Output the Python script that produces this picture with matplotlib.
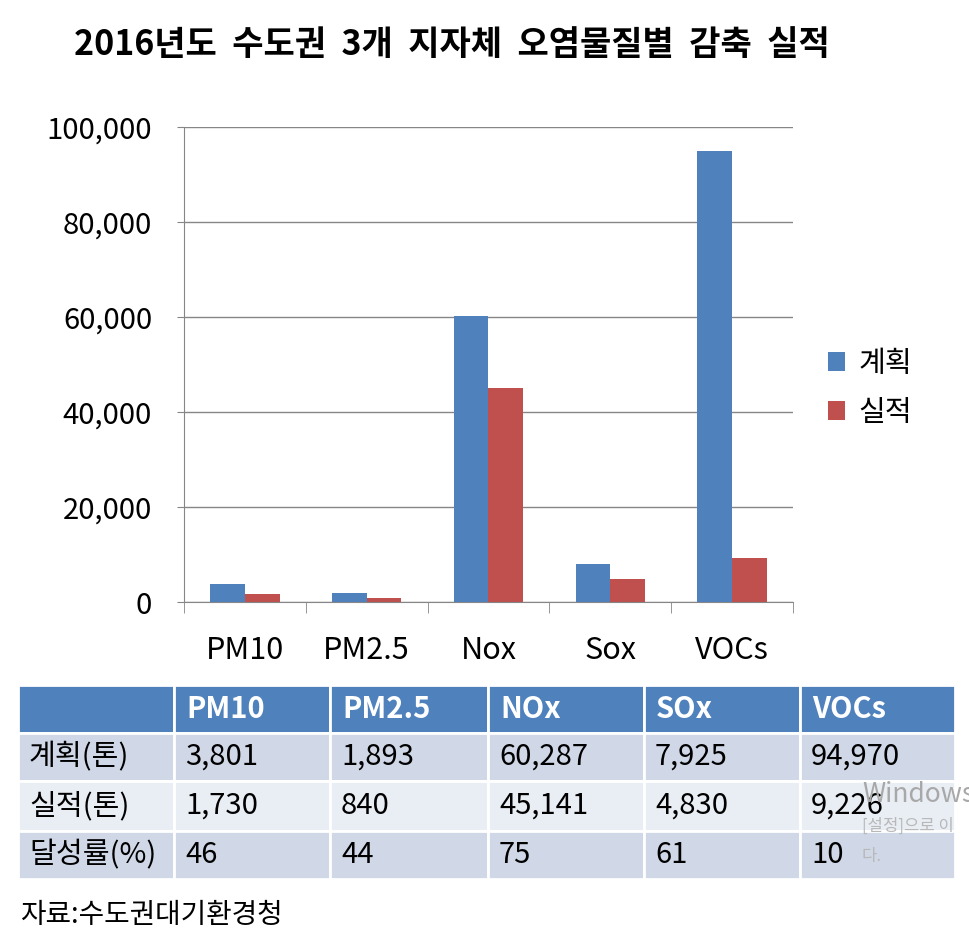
import matplotlib.pyplot as plt
from matplotlib.patches import Rectangle
from matplotlib.ticker import FuncFormatter

plt.rcParams['font.family'] = ['Noto Sans CJK KR', 'DejaVu Sans']

categories = ["PM10", "PM2.5", "Nox", "Sox", "VOCs"]
plan = [3801, 1893, 60287, 7925, 94970]
actual = [1730, 840, 45141, 4830, 9226]
rate = [46, 44, 75, 61, 10]
table_cols = ["PM10", "PM2.5", "NOx", "SOx", "VOCs"]
row_labels = ["계획(톤)", "실적(톤)", "달성률(%)"]

blue = "#4F81BD"
red = "#C0504D"

fig = plt.figure(figsize=(9.7, 9.4), dpi=100)
W, H = 970, 940

# bar chart
ax = fig.add_axes([184 / W, 338 / H, 609 / W, 475 / H])
x = list(range(len(categories)))
bw = 0.285
ax.bar([i - bw / 2 for i in x], plan, bw, color=blue, label="계획")
ax.bar([i + bw / 2 for i in x], actual, bw, color=red, label="실적")
ax.set_xlim(-0.5, 4.5)
ax.set_ylim(0, 100000)
ax.set_yticks(range(0, 100001, 20000))
ax.yaxis.set_major_formatter(FuncFormatter(lambda v, p: f"{int(v):,}"))
ax.grid(axis="y", color="#868686", lw=1)
ax.set_axisbelow(True)
for s in ["top", "right"]:
    ax.spines[s].set_visible(False)
for s in ["left", "bottom"]:
    ax.spines[s].set_color("#868686")
ax.set_xticks(x)
ax.set_xticklabels(categories)
ax.set_xticks([i - 0.5 for i in range(6)], minor=True)
ax.tick_params(axis="x", which="major", length=0, pad=24, labelsize=22)
ax.tick_params(axis="x", which="minor", length=8, color="#868686")
ax.tick_params(axis="y", length=5, color="#868686", pad=18, labelsize=21)
ax.legend(loc="center left", bbox_to_anchor=(1.057, 0.45), frameon=False,
          fontsize=21, handlelength=0.6, handleheight=0.6, labelspacing=0.65,
          handletextpad=0.45, borderaxespad=0, borderpad=0)

fig.text(74 / W, 1 - 45 / H, "2016년도  수도권  3개  지자체  오염물질별  감축  실적",
         fontsize=24.5, fontweight="bold", va="center", ha="left")

# table
tab = fig.add_axes([0, 0, 1, 1])
tab.set_xlim(0, W)
tab.set_ylim(H, 0)
tab.axis("off")
col_x = [18, 174, 330, 488, 644, 800, 955]
row_y = [685, 733, 781, 831, 879]
row_bg = [blue, "#D0D8E8", "#E9EDF4", "#D0D8E8"]
header = [""] + table_cols
rows = [header,
        [row_labels[0]] + [f"{v:,}" for v in plan],
        [row_labels[1]] + [f"{v:,}" for v in actual],
        [row_labels[2]] + [str(v) for v in rate]]
for r in range(4):
    for c in range(6):
        x0, x1 = col_x[c], col_x[c + 1]
        y0, y1 = row_y[r], row_y[r + 1]
        tab.add_patch(Rectangle((x0, y0), x1 - x0, y1 - y0, facecolor=row_bg[r],
                                edgecolor="white", lw=2))
        if r == 0:
            tab.text(x0 + 12, (y0 + y1) / 2, rows[r][c], color="white",
                     fontsize=21, fontweight="bold", va="center")
        else:
            tab.text(x0 + 11, (y0 + y1) / 2, rows[r][c], color="black",
                     fontsize=21, va="center")

# watermark overlay
tab.text(862, 795, "Windows", color="#A8A8A8", fontsize=19, va="center")
tab.text(862, 826, "[설정]으로 이", color="#B8B8B8", fontsize=12, va="center")
tab.text(862, 856, "다.", color="#B8B8B8", fontsize=12, va="center")

fig.text(20 / W, 1 - 915 / H, "자료:수도권대기환경청", fontsize=20, va="center")

fig.savefig("out.png", dpi=100)
